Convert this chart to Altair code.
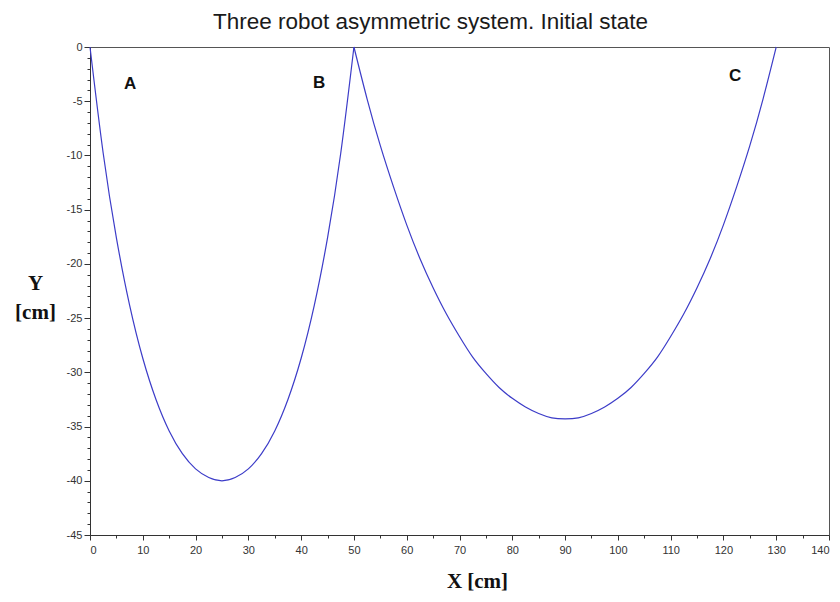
import altair as alt
import pandas as pd

# Left cable (A -> B)
left_x = [0, 2.5, 5, 7.5, 10, 12.5, 15, 17.5, 20, 22.5, 25,
          27.5, 30, 32.5, 35, 37.5, 40, 42.5, 45, 47.5, 50]
left_y = [0, -9.8, -17.6, -23.8, -28.7, -32.5, -35.4, -37.5, -38.9, -39.7, -40.0,
          -39.7, -38.9, -37.5, -35.4, -32.5, -28.7, -23.8, -17.6, -9.8, 0]

# Right cable (B -> C)
right_x = [50, 52.5, 55, 57.5, 60, 62.5, 65, 67.5, 70, 72.5, 75, 77.5, 80, 82.5, 85, 87.5, 90,
           92.5, 95, 97.5, 100, 102.5, 105, 107.5, 110, 112.5, 115, 117.5, 120, 122.5, 125, 127.5, 130]
right_y = [0, -4.8, -9.1, -12.9, -16.4, -19.5, -22.2, -24.6, -26.7, -28.6, -30.1, -31.4, -32.4,
           -33.2, -33.8, -34.2, -34.3,
           -34.2, -33.8, -33.2, -32.4, -31.4, -30.1, -28.6, -26.7, -24.6, -22.2, -19.5, -16.4,
           -12.9, -9.1, -4.8, 0]

# Robot labels
robot_names = ["A", "B", "C"]
robot_x = [7.6, 43.4, 122.2]
robot_y = [-3.4, -3.3, -2.7]

# Ticks
x_major = [0, 10, 20, 30, 40, 50, 60, 70, 80, 90, 100, 110, 120, 130, 140]
x_minor = [5, 15, 25, 35, 45, 55, 65, 75, 85, 95, 105, 115, 125, 135]
y_major = [0, -5, -10, -15, -20, -25, -30, -35, -40, -45]
y_minor = [-v for v in range(0, 46) if v % 5 != 0]

df = pd.DataFrame({
    "x": left_x + right_x,
    "y": left_y + right_y,
    "curve": ["left"] * len(left_x) + ["right"] * len(right_x),
})
lbl = pd.DataFrame({"name": robot_names, "x": robot_x, "y": robot_y})

xscale = alt.Scale(domain=[0, 140], nice=False, zero=False)
yscale = alt.Scale(domain=[-45, 0], nice=False, zero=False)

AX = "#333333"
common = dict(grid=False, domainColor=AX, tickColor=AX, labelColor="#333333",
              labelFont="Liberation Sans", labelFontSize=11)

line = alt.Chart(df).mark_line(color="#3c3cc8", strokeWidth=1.2, interpolate="natural").encode(
    x=alt.X("x:Q", scale=xscale, axis=alt.Axis(
        values=x_major, orient="bottom", tickSize=5, labelPadding=4,
        labelExpr="'' + datum.value",
        title="X [cm]", titleFont="Liberation Serif", titleFontWeight="bold",
        titleFontSize=21, titleColor="#111111", titleX=387, titleY=52,
        titleAlign="center", titleBaseline="alphabetic", **common)),
    y=alt.Y("y:Q", scale=yscale, axis=alt.Axis(
        values=y_major, orient="left", tickSize=6, labelPadding=2,
        labelExpr="'' + datum.value",
        title=["Y", "[cm]"], titleFont="Liberation Serif", titleFontWeight="bold",
        titleFontSize=21, titleColor="#111111", titleAngle=0, titleX=-55, titleY=225,
        titleAlign="center", titleBaseline="top", titleLineHeight=29, **common)),
    detail="curve:N",
)

minor = alt.Chart(df).mark_line(opacity=0).encode(
    x=alt.X("x:Q", scale=xscale, axis=alt.Axis(
        values=x_minor, orient="bottom", labels=False, title=None, domain=False,
        tickSize=3, grid=False, tickColor=AX)),
    y=alt.Y("y:Q", scale=yscale, axis=alt.Axis(
        values=y_minor, orient="left", labels=False, title=None, domain=False,
        tickSize=3, grid=False, tickColor=AX)),
    detail="curve:N",
)

text = alt.Chart(lbl).mark_text(font="Liberation Sans", fontWeight="bold", fontSize=17,
                                color="#111111").encode(
    x=alt.X("x:Q", scale=xscale, axis=None),
    y=alt.Y("y:Q", scale=yscale, axis=None),
    text="name:N",
)

chart = alt.layer(line, minor, text).resolve_axis(
    x="independent", y="independent"
).properties(
    width=739,
    height=488,
    title=alt.TitleParams(
        "Three robot asymmetric system. Initial state",
        font="Liberation Sans", fontSize=22.5, fontWeight="normal", color="#1a1a1a",
        anchor="middle", offset=8, dx=-29,
    ),
    padding={"left": 82, "top": 39, "right": 3, "bottom": 59},
    autosize=alt.AutoSizeParams(type="none"),
).configure_view(stroke="#555555", strokeWidth=1)

chart.save("out.html", embed_options={"renderer": "svg", "actions": False})
